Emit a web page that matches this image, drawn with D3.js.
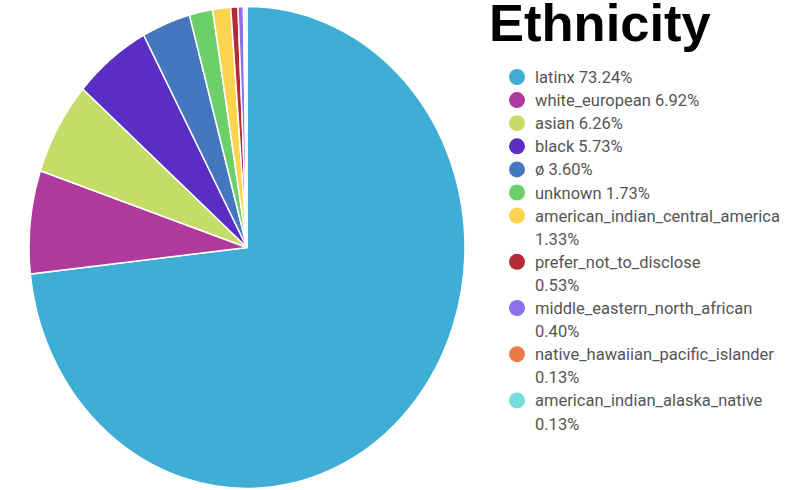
<!DOCTYPE html>
<html>
<head>
<meta charset="utf-8">
<script src="https://cdn.jsdelivr.net/npm/d3@7"></script>
<style>
    body { margin: 0; background: #fff; }
    .title { font-family: "Liberation Sans", Arial, sans-serif; font-weight: bold; font-size: 52.5px; fill: #000; }
    .legend text { font-family: Roboto, "Noto Sans", sans-serif; font-size: 16.5px; fill: #555; }
</style>
</head>
<body>
<div id="scene"></div>
<script>
const categories = [
    'latinx', 'white_european', 'asian', 'black', 'ø', 'unknown',
    'american_indian_central_america', 'prefer_not_to_disclose',
    'middle_eastern_north_african', 'native_hawaiian_pacific_islander',
    'american_indian_alaska_native'
];
const percents = [73.24, 6.92, 6.26, 5.73, 3.60, 1.73, 1.33, 0.53, 0.40, 0.13, 0.13];
const colors = [
    '#3eaed6', '#b0399e', '#c5dc68', '#5a2dc4', '#4577bf', '#6dcf6a',
    '#fdd450', '#b42a36', '#8f6ef0', '#ea7a48', '#6fdedd'
];
// legend labels too long for one line get the percent on a second line
const wrapped = [false, false, false, false, false, false, true, true, true, true, true];

const width = 807;
const height = 490;

const data = categories.map((c, i) => ({ name: c, value: percents[i], color: colors[i], wrap: wrapped[i] }));

const svg = d3.select('#scene')
    .append('svg')
    .attr('width', width)
    .attr('height', height);

// pie is drawn on a circle and stretched vertically
const rx = 218;
const ry = 241;
const pie = d3.pie().sort(null).value(d => d.value);
const arc = d3.arc().innerRadius(0).outerRadius(rx);

const chart = svg.append('g')
    .attr('transform', `translate(247,247.5) scale(1,${ry / rx})`);

chart.selectAll('path')
    .data(pie(data))
    .enter().append('path')
    .attr('d', arc)
    .attr('fill', d => d.data.color)
    .attr('stroke', '#fff')
    .attr('stroke-width', 1.5)
    .attr('vector-effect', 'non-scaling-stroke');

svg.append('text')
    .attr('class', 'title')
    .attr('x', 489)
    .attr('y', 41)
    .text('Ethnicity');

// legend
const lineH = 23.1;
const legend = svg.append('g').attr('class', 'legend');
let y = 77;
data.forEach(d => {
    legend.append('circle')
        .attr('cx', 517)
        .attr('cy', y)
        .attr('r', 8)
        .attr('fill', d.color);
    if (d.wrap) {
        legend.append('text').attr('x', 535).attr('y', y + 6).text(d.name);
        legend.append('text').attr('x', 535).attr('y', y + lineH + 6).text(d.value.toFixed(2) + '%');
        y += lineH * 2;
    } else {
        legend.append('text').attr('x', 535).attr('y', y + 6).text(`${d.name} ${d.value.toFixed(2)}%`);
        y += lineH;
    }
});
</script>
</body>
</html>
